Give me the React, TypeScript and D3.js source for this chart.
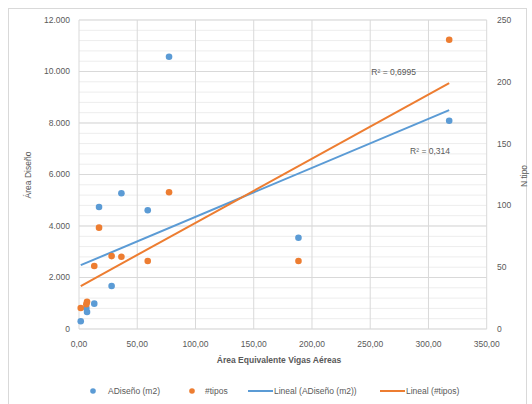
import React from "react";
import * as d3 from "d3";

const areaVigas = [1.5, 6.3, 6.9, 13.1, 17.2, 28, 36.4, 59, 77.3, 188.4, 317.8];
const aDiseno = [300, 815, 660, 985, 4740, 1670, 5270, 4610, 10575, 3545, 8090];
const nTipos = [17, 20, 22, 51, 82, 59, 58.5, 55, 110.6, 55, 234];
const xTicks = [0, 50, 100, 150, 200, 250, 300, 350];
const yLeftTicks = [0, 2000, 4000, 6000, 8000, 10000, 12000];
const yRightTicks = [0, 50, 100, 150, 200, 250];
const r2Labels = ["R² = 0,314", "R² = 0,6995"];
const legendLabels = ["ADiseño (m2)", "#tipos", "Lineal (ADiseño (m2))", "Lineal (#tipos)"];

const BLUE = "#5B9BD5";
const ORANGE = "#ED7D31";
const TXT = "#595959";
const FONT = "'Liberation Sans', Arial, sans-serif";

const loc = d3.formatLocale({ decimal: ",", thousands: ".", grouping: [3], currency: ["", "€"] });
const fmtX = loc.format(",.2f");
const fmtY = loc.format(",.0f");

function regress(xs: number[], ys: number[]) {
  const mx = d3.mean(xs)!;
  const my = d3.mean(ys)!;
  let sxy = 0, sxx = 0;
  xs.forEach((x, i) => { sxy += (x - mx) * (ys[i] - my); sxx += (x - mx) ** 2; });
  const b = sxy / sxx;
  const a = my - b * mx;
  return (x: number) => a + b * x;
}

export default function App() {
  const x = d3.scaleLinear().domain([0, 350]).range([79, 486.7]);
  const yL = d3.scaleLinear().domain([0, 12000]).range([329, 20]);
  const yR = d3.scaleLinear().domain([0, 250]).range([329, 20]);
  const minor = d3.range(0, 12001, 400);
  const [x0, x1] = d3.extent(areaVigas) as [number, number];
  const fB = regress(areaVigas, aDiseno);
  const fO = regress(areaVigas, nTipos);
  const line = d3.line();
  const blueLine = line([[x(x0), yL(fB(x0))], [x(x1), yL(fB(x1))]])!;
  const orangeLine = line([[x(x0), yR(fO(x0))], [x(x1), yR(fO(x1))]])!;

  return (
    <svg width={532} height={404} style={{ position: "absolute", left: 0, top: 0, background: "#fff" }} fontFamily={FONT}>
      <rect x={8.5} y={8.5} width={518} height={404} fill="#fff" stroke="#D9D9D9" />
      {minor.map((v) => (
        <line key={"m" + v} x1={x(0)} x2={x(350)} y1={yL(v)} y2={yL(v)} stroke="#EDEDED" strokeWidth={1} />
      ))}
      {yLeftTicks.map((v) => (
        <line key={"g" + v} x1={x(0)} x2={x(350)} y1={yL(v)} y2={yL(v)} stroke="#D9D9D9" strokeWidth={1} />
      ))}
      {xTicks.map((v) => (
        <line key={"v" + v} x1={x(v)} x2={x(v)} y1={yL(0)} y2={yL(12000)} stroke="#D9D9D9" strokeWidth={1} />
      ))}
      {yLeftTicks.map((v) => (
        <text key={"yl" + v} x={70} y={yL(v)} dy="0.35em" textAnchor="end" fontSize={8.5} fill={TXT}>{fmtY(v)}</text>
      ))}
      {yRightTicks.map((v) => (
        <text key={"yr" + v} x={497} y={yR(v)} dy="0.35em" textAnchor="start" fontSize={8.5} fill={TXT}>{fmtY(v)}</text>
      ))}
      {xTicks.map((v) => (
        <text key={"xt" + v} x={x(v)} y={344} dy="0.35em" textAnchor="middle" fontSize={8.5} fill={TXT}>{fmtX(v)}</text>
      ))}
      <text x={279} y={360} dy="0.35em" textAnchor="middle" fontSize={8.5} fill={TXT} fontWeight="bold">Área Equivalente Vigas Aéreas</text>
      <text transform={`translate(28,175) rotate(-90)`} dy="0.35em" textAnchor="middle" fontSize={8.5} fill={TXT}>Área Diseño</text>
      <text transform={`translate(524,176) rotate(-90)`} dy="0.35em" textAnchor="middle" fontSize={8.5} fill={TXT}>N tipo</text>

      <path d={blueLine} stroke={BLUE} strokeWidth={2} fill="none" />
      <path d={orangeLine} stroke={ORANGE} strokeWidth={2} fill="none" />

      {areaVigas.map((v, i) => (
        <circle key={"b" + i} cx={x(v)} cy={yL(aDiseno[i])} r={3.3} fill={BLUE} />
      ))}
      {areaVigas.map((v, i) => (
        <circle key={"o" + i} cx={x(v)} cy={yR(nTipos[i])} r={3.3} fill={ORANGE} />
      ))}

      <text x={450} y={151} dy="0.35em" textAnchor="end" fontSize={8.5} fill={TXT}>{r2Labels[0]}</text>
      <text x={416} y={72} dy="0.35em" textAnchor="end" fontSize={8.5} fill={TXT}>{r2Labels[1]}</text>

      <g fontSize={8.5} fill={TXT}>
        <circle cx={93} cy={391} r={2.8} fill={BLUE} />
        <text x={108} y={391} dy="0.35em">{legendLabels[0]}</text>
        <circle cx={192} cy={391} r={2.8} fill={ORANGE} />
        <text x={205} y={391} dy="0.35em">{legendLabels[1]}</text>
        <line x1={248} x2={273} y1={391} y2={391} stroke={BLUE} strokeWidth={2} />
        <text x={274} y={391} dy="0.35em">{legendLabels[2]}</text>
        <line x1={380} x2={405} y1={391} y2={391} stroke={ORANGE} strokeWidth={2} />
        <text x={406} y={391} dy="0.35em">{legendLabels[3]}</text>
      </g>
    </svg>
  );
}
